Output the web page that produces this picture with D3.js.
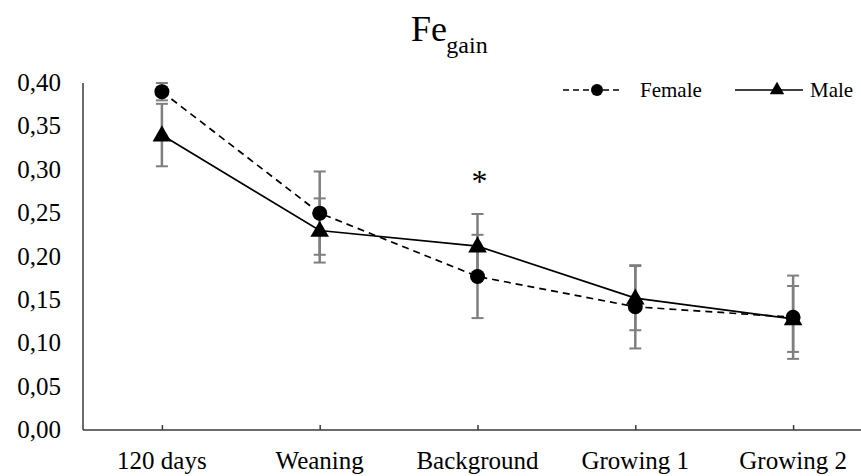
<!DOCTYPE html>
<html>
<head>
<meta charset="utf-8">
<script src="https://cdn.jsdelivr.net/npm/d3@7/dist/d3.min.js"></script>
</head>
<body style="margin:0">
<svg id="chart" width="861" height="476"></svg>
<script>
// ---- data ----
const categories = ["120 days", "Weaning", "Background", "Growing 1", "Growing 2"];
const female     = [0.390, 0.250, 0.177, 0.142, 0.130];
const femaleErr  = [0.010, 0.048, 0.048, 0.048, 0.048];
const male       = [0.340, 0.230, 0.212, 0.152, 0.128];
const maleErr    = [0.036, 0.037, 0.037, 0.037, 0.038];
const significance = ["", "", "*", "", ""];
const yTicks = [0, 0.05, 0.10, 0.15, 0.20, 0.25, 0.30, 0.35, 0.40];
const legendItems = ["Female", "Male"];

// ---- layout ----
const svg = d3.select("#chart");
const x = d3.scalePoint().domain(categories).range([83, 872]).padding(0.5);
const y = d3.scaleLinear().domain([0, 0.40]).range([430, 83]);
const axisColor = "#3a3a3a";
const errColor = "#7f7f7f";
const fmt = d => d.toFixed(2).replace(".", ",");

// all texts through one joined layer, like a plain text list
const texts = [];
texts.push({t: "Fe", x: 429, y: 41, s: 36, a: "middle"});
texts.push({t: "gain", x: 467, y: 53, s: 24, a: "middle"});
yTicks.forEach(v => texts.push({t: fmt(v), x: 61, y: y(v) + 8, s: 25, a: "end"}));
categories.forEach(c => texts.push({t: c, x: x(c), y: 469, s: 25, a: "middle"}));
significance.forEach((s, i) => { if (s) texts.push({t: s, x: x(categories[i]) + 2,
  y: y(Math.max(female[i] + femaleErr[i], male[i] + maleErr[i])) - 22, s: 32, a: "middle"}); });
texts.push({t: legendItems[0], x: 640, y: 97, s: 21, a: "start"});
texts.push({t: legendItems[1], x: 810, y: 97, s: 21, a: "start"});

// axes (lines and ticks only)
const gx = svg.append("g").attr("transform", `translate(0,${y(0)})`)
  .call(d3.axisBottom(x).tickSize(-5).tickSizeOuter(0).tickFormat(() => ""));
gx.attr("font-family", null).attr("font-size", null);
gx.select(".domain").remove();
gx.selectAll("text").remove();
gx.selectAll(".tick line").attr("stroke", axisColor).attr("stroke-width", 1.5);
svg.append("line")
  .attr("x1", x.range()[0]).attr("x2", x.range()[1]).attr("y1", y(0)).attr("y2", y(0))
  .attr("stroke", axisColor).attr("stroke-width", 1.5);
svg.append("line")
  .attr("x1", 83).attr("x2", 83).attr("y1", y(0.40)).attr("y2", y(0))
  .attr("stroke", axisColor).attr("stroke-width", 1.5);

// error bars
function errorBars(vals, errs) {
  const g = svg.append("g").attr("stroke", errColor).attr("stroke-width", 2.5);
  categories.forEach((c, i) => {
    const cx = x(c), top = y(vals[i] + errs[i]), bot = y(vals[i] - errs[i]);
    g.append("line").attr("x1", cx).attr("x2", cx).attr("y1", top).attr("y2", bot);
    g.append("line").attr("x1", cx - 6).attr("x2", cx + 6).attr("y1", top).attr("y2", top).attr("stroke-width", 2);
    g.append("line").attr("x1", cx - 6).attr("x2", cx + 6).attr("y1", bot).attr("y2", bot).attr("stroke-width", 2);
  });
}
errorBars(female, femaleErr);
errorBars(male, maleErr);

// lines
const line = d3.line().x((d, i) => x(categories[i])).y(d => y(d));
svg.append("path").datum(female).attr("d", line)
  .attr("fill", "none").attr("stroke", "#000").attr("stroke-width", 1.7)
  .attr("stroke-dasharray", "7,5");
svg.append("path").datum(male).attr("d", line)
  .attr("fill", "none").attr("stroke", "#000").attr("stroke-width", 1.7);

// markers
svg.append("g").selectAll("circle").data(female).join("circle")
  .attr("cx", (d, i) => x(categories[i])).attr("cy", d => y(d))
  .attr("r", 7.5).attr("fill", "#000");
svg.append("g").selectAll("path").data(male).join("path")
  .attr("d", d3.symbol().type(d3.symbolTriangle).size(150))
  .attr("transform", (d, i) => `translate(${x(categories[i])},${y(d) + 1})`)
  .attr("fill", "#000");

// legend symbols
svg.append("line").attr("x1", 563).attr("x2", 623).attr("y1", 90).attr("y2", 90)
  .attr("stroke", "#000").attr("stroke-width", 1.7).attr("stroke-dasharray", "6,4");
svg.append("circle").attr("cx", 597).attr("cy", 90).attr("r", 6).attr("fill", "#000");
svg.append("line").attr("x1", 735).attr("x2", 803).attr("y1", 90).attr("y2", 90)
  .attr("stroke", "#000").attr("stroke-width", 1.7);
svg.append("path").attr("d", d3.symbol().type(d3.symbolTriangle).size(90))
  .attr("transform", "translate(777,90)").attr("fill", "#000");

// texts
svg.append("g").selectAll("text").data(texts).join("text")
  .attr("x", d => d.x).attr("y", d => d.y)
  .attr("font-size", d => d.s)
  .attr("text-anchor", d => d.a)
  .style("font-family", '"Liberation Serif"')
  .text(d => d.t);
</script>
</body>
</html>
